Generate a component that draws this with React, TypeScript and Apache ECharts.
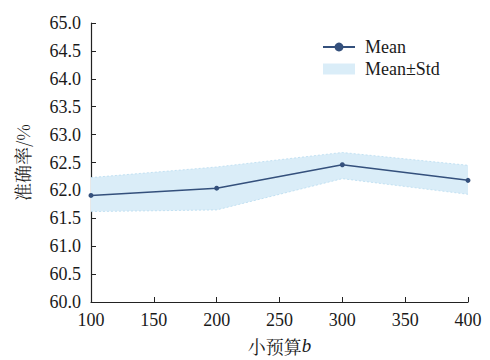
import React, { useEffect, useRef } from "react";
import * as echarts from "echarts";

const budgets = [100, 200, 300, 400];
const meanValues = [61.91, 62.04, 62.46, 62.18];
const lowerValues = [61.62, 61.65, 62.21, 61.93];
const upperValues = [62.23, 62.42, 62.68, 62.45];
const yTickMin = 60;
const yTickMax = 65;
const xTickMin = 100;
const xTickMax = 400;

const FONT = "Liberation Serif";
const CJK = "Noto Serif CJK SC";
const BAND = "#daedf8";
const BAND_EDGE = "#b9dcf0";
const LINE = "#34507c";
const TXT = "#1a1a1a";

export default function App() {
  const ref = useRef<HTMLDivElement>(null);
  useEffect(() => {
    if (!ref.current) return;
    const chart = echarts.init(ref.current, undefined, { renderer: "svg" });
    const meanData = budgets.map((b, i) => [b, meanValues[i]]);
    const axisColor = "#222";
    chart.setOption({
      animation: false,
      backgroundColor: "#ffffff",
      textStyle: { fontFamily: FONT },
      grid: { left: 91, right: 22, top: 23, bottom: 54, containLabel: false },
      legend: {
        orient: "vertical",
        left: 317,
        top: 33,
        itemWidth: 32,
        itemHeight: 11,
        itemGap: 4,
        textStyle: { fontFamily: FONT, fontSize: 18, color: TXT, padding: [0, 0, 0, 5] },
        data: [
          { name: "Mean" },
          { name: "Mean±Std", icon: "rect", itemStyle: { color: BAND, borderWidth: 0 } },
        ],
      },
      xAxis: {
        type: "value",
        min: xTickMin,
        max: xTickMax,
        interval: 50,
        name: "{a|小预算}{b|b}",
        nameLocation: "middle",
        nameGap: 34,
        nameTextStyle: {
          fontFamily: CJK,
          rich: {
            a: { fontFamily: CJK, fontSize: 18, color: TXT },
            b: { fontFamily: FONT, fontStyle: "italic", fontSize: 19, color: TXT },
          },
        },
        axisLine: { show: true, lineStyle: { color: axisColor, width: 1.2 } },
        axisTick: { show: true, inside: true, length: 5, lineStyle: { color: axisColor } },
        axisLabel: { fontFamily: FONT, fontSize: 18, color: TXT, margin: 9 },
        splitLine: { show: false },
      },
      yAxis: {
        type: "value",
        min: yTickMin,
        max: yTickMax,
        interval: 0.5,
        name: "准确率/%",
        nameLocation: "middle",
        nameRotate: 90,
        nameGap: 60,
        nameTextStyle: { fontFamily: CJK, fontSize: 18, color: TXT },
        axisLine: { show: true, lineStyle: { color: axisColor, width: 1.2 } },
        axisTick: { show: true, inside: true, length: 5, lineStyle: { color: axisColor } },
        axisLabel: {
          fontFamily: FONT,
          fontSize: 18,
          color: TXT,
          margin: 10,
          formatter: (v: number) => v.toFixed(1),
        },
        splitLine: { show: false },
      },
      series: [
        {
          name: "Mean±Std",
          type: "custom",
          silent: true,
          itemStyle: { color: BAND },
          data: meanData,
          encode: { x: 0, y: 1 },
          z: 1,
          renderItem: (params: any, api: any) => {
            if (params.dataIndex !== 0) return null;
            const upper = budgets.map((b, i) => api.coord([b, upperValues[i]]));
            const lower = budgets.map((b, i) => api.coord([b, lowerValues[i]]));
            const poly = upper.concat(lower.slice().reverse());
            return {
              type: "group",
              children: [
                { type: "polygon", shape: { points: poly }, style: { fill: BAND, stroke: "none" } },
                { type: "polyline", shape: { points: upper }, style: { fill: "none", stroke: BAND_EDGE, lineWidth: 0.8, lineDash: [2, 2] } },
                { type: "polyline", shape: { points: lower }, style: { fill: "none", stroke: BAND_EDGE, lineWidth: 0.8, lineDash: [2, 2] } },
              ],
            };
          },
        },
        {
          name: "Mean",
          type: "line",
          data: meanData,
          symbol: "circle",
          symbolSize: 5,
          itemStyle: { color: LINE },
          lineStyle: { color: LINE, width: 1.5 },
          z: 5,
        },
      ],
    });
    return () => chart.dispose();
  }, []);
  return <div ref={ref} style={{ position: "fixed", left: 0, top: 0, width: 490, height: 360 }} />;
}
